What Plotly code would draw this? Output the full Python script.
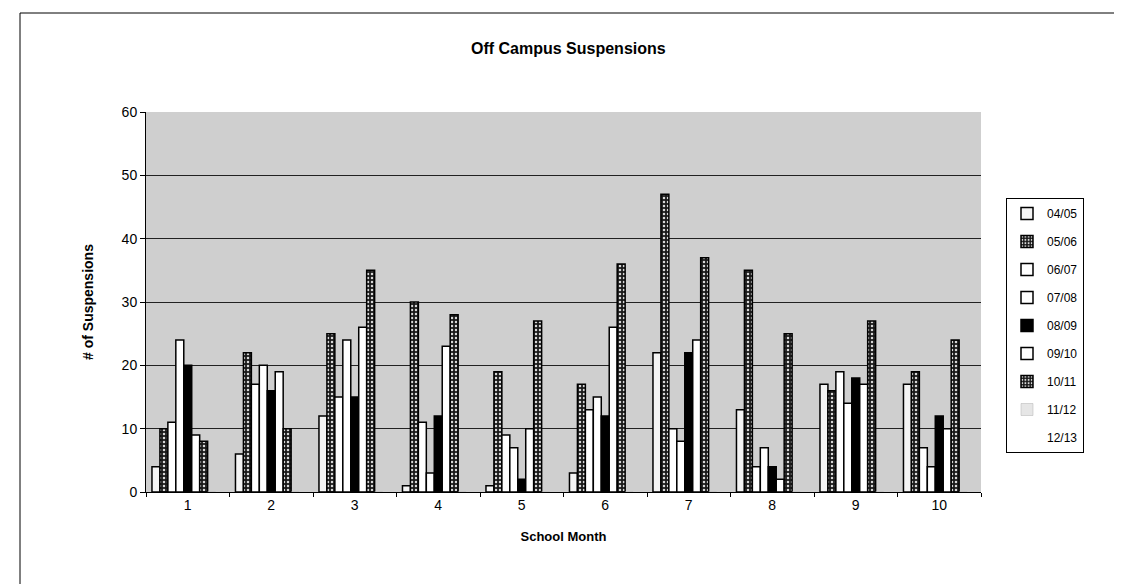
import plotly.graph_objects as go

months = ["1", "2", "3", "4", "5", "6", "7", "8", "9", "10"]
series_names = ["04/05", "05/06", "06/07", "07/08", "08/09", "09/10", "10/11", "11/12", "12/13"]
v_0405 = [4, 6, 12, 1, 1, 3, 22, 13, 17, 17]
v_0506 = [10, 22, 25, 30, 19, 17, 47, 35, 16, 19]
v_0607 = [11, 17, 15, 11, 9, 13, 10, 4, 19, 7]
v_0708 = [24, 20, 24, 3, 7, 15, 8, 7, 14, 4]
v_0809 = [20, 16, 15, 12, 2, 12, 22, 4, 18, 12]
v_0910 = [9, 19, 26, 23, 10, 26, 24, 2, 17, 10]
v_1011 = [8, 10, 35, 28, 27, 36, 37, 25, 27, 24]
v_1112 = [0, 0, 0, 0, 0, 0, 0, 0, 0, 0]
v_1213 = [0, 0, 0, 0, 0, 0, 0, 0, 0, 0]
values = [v_0405, v_0506, v_0607, v_0708, v_0809, v_0910, v_1011, v_1112, v_1213]

dark = dict(shape=".", fgcolor="#d8d8d8", bgcolor="#1a1a1a", size=4, solidity=0.3, fillmode="replace")
styles = [
    dict(color="#f4f4f4", line=dict(color="black", width=1.5)),
    dict(color="#1a1a1a", pattern=dark, line=dict(color="black", width=1.5)),
    dict(color="white", line=dict(color="black", width=1.5)),
    dict(color="white", line=dict(color="black", width=1.5)),
    dict(color="black", line=dict(color="black", width=1.5)),
    dict(color="white", line=dict(color="black", width=1.5)),
    dict(color="#1a1a1a", pattern=dark, line=dict(color="black", width=1.5)),
    dict(color="#e6e6e6", line=dict(color="#b0b0b0", width=0.5)),
    dict(color="white", line=dict(color="white", width=0)),
]

FONT = "Arial, Liberation Sans, sans-serif"
fig = go.Figure()
for name, vals, st in zip(series_names, values, styles):
    fig.add_trace(go.Bar(x=months, y=vals, name=name, marker=st, legendgroup=name))

# plot area in pixels
L, R, T, B = 138, 973, 104, 484
W, H = R - L, B - T
def px(x):
    return (x - L) / W
def py(y):
    return (B - y) / H

fig.update_layout(
    width=1122, height=584,
    margin=dict(l=L, r=1122 - R, t=T, b=584 - B),
    paper_bgcolor="white",
    plot_bgcolor="#cfcfcf",
    barmode="group",
    bargap=0.143,
    bargroupgap=0,
    font=dict(family=FONT, color="black", size=13),
    title=dict(text="<b>Off Campus Suspensions</b>", x=px(555), xanchor="center",
               y=1 - 40 / 584, yanchor="middle", font=dict(size=16, family=FONT)),
    xaxis=dict(title=dict(text="<b>School Month</b>", font=dict(size=13), standoff=20),
               type="category", tickson="boundaries", ticks="outside", ticklen=4,
               tickcolor="black", showline=True, linecolor="black", linewidth=1,
               showgrid=False, tickfont=dict(size=14)),
    yaxis=dict(title=dict(text="<b># of Suspensions</b>", font=dict(size=14), standoff=24),
               range=[0, 60], dtick=10, ticks="outside", ticklen=5, tickcolor="black",
               showline=True, linecolor="black", linewidth=1, showgrid=True,
               gridcolor="#222222", gridwidth=1, tickfont=dict(size=14), zeroline=False),
    legend=dict(x=px(998), y=py(190), xanchor="left", yanchor="top",
                bgcolor="white", bordercolor="black", borderwidth=1,
                font=dict(size=12, family=FONT), tracegroupgap=9, traceorder="grouped",
                itemwidth=30),
    showlegend=True,
)

fig.add_shape(type="rect", xref="paper", yref="paper",
              x0=px(12), x1=px(1117), y0=py(577), y1=py(5),
              line=dict(color="black", width=1), fillcolor="rgba(0,0,0,0)", layer="below")

fig.write_html("out.html")
